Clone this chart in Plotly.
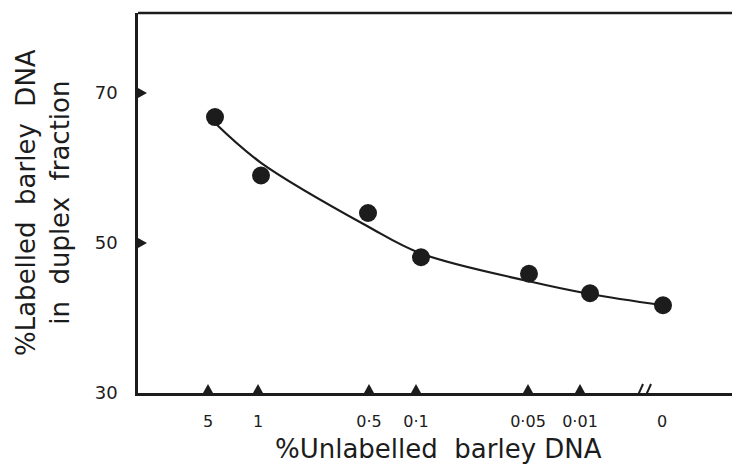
import plotly.graph_objects as go

# ---- data ----
concentration_labels = ["5", "1", "0·5", "0·1", "0·05", "0·01", "0"]
axis_pos = [70, 120, 231, 278, 390, 442, 524]      # category positions on the (broken) x axis
point_pos = [77, 123, 230, 283, 391, 452, 525]     # horizontal placement of measured points
labelled_pct = [66.8, 59.0, 54.0, 48.1, 45.9, 43.3, 41.7]
fitted_pct = [66.0, 60.7, 52.2, 48.6, 44.9, 43.2, 41.7]
y_ticks = [30, 50, 70]
break_pos = 505

INK = "#1c1c1c"
FONT = "DejaVu Sans"

fig = go.Figure()

fig.add_trace(go.Scatter(
    x=point_pos, y=fitted_pct, mode="lines",
    line=dict(color=INK, width=2.2, shape="spline", smoothing=1.0),
    hoverinfo="skip", showlegend=False))

fig.add_trace(go.Scatter(
    x=point_pos, y=labelled_pct, mode="markers",
    marker=dict(color=INK, size=18, line=dict(width=0)),
    showlegend=False))

shapes = []
# inward triangular ticks on x axis
for p in axis_pos[:-1]:
    shapes.append(dict(type="path", xref="x", yref="y",
                       xsizemode="pixel", ysizemode="pixel",
                       xanchor=p, yanchor=y_ticks[0],
                       path="M -5 0 L 5 0 L 0 9 Z",
                       fillcolor=INK, line=dict(width=0)))
# inward triangular ticks on y axis
for v in y_ticks[1:]:
    shapes.append(dict(type="path", xref="x", yref="y",
                       xsizemode="pixel", ysizemode="pixel",
                       xanchor=0, yanchor=v,
                       path="M 0 -5 L 0 5 L 9 0 Z",
                       fillcolor=INK, line=dict(width=0)))
# top border
shapes.append(dict(type="line", xref="paper", yref="paper", x0=0, x1=1, y0=1, y1=1,
                   line=dict(color=INK, width=2.5)))
# partial right border
shapes.append(dict(type="line", xref="paper", yref="y", x0=1, x1=1, y0=30, y1=45.5,
                   line=dict(color=INK, width=2)))
# axis break marks
for dx in (-4, 4):
    shapes.append(dict(type="line", xref="x", yref="y",
                       xsizemode="pixel", ysizemode="pixel",
                       xanchor=break_pos, yanchor=y_ticks[0],
                       x0=dx - 4, x1=dx + 4, y0=-9, y1=9,
                       line=dict(color=INK, width=2)))

fig.update_layout(
    width=732, height=459,
    margin=dict(l=130, r=2, t=5, b=74),
    paper_bgcolor="white", plot_bgcolor="white",
    font=dict(family=FONT, color=INK),
    shapes=shapes,
    xaxis=dict(range=[0, 600], showgrid=False, zeroline=False,
               showline=True, linecolor=INK, linewidth=2.5,
               tickmode="array", tickvals=axis_pos, ticktext=concentration_labels,
               ticks="", tickfont=dict(size=16, family=FONT, color=INK),
               ticklabelstandoff=12),
    yaxis=dict(range=[30, 80.67], showgrid=False, zeroline=False,
               showline=True, linecolor=INK, linewidth=2.5,
               tickmode="array", tickvals=y_ticks,
               ticks="", tickfont=dict(size=18, family=FONT, color=INK),
               ticklabelstandoff=14),
    annotations=[
        dict(text="%Unlabelled  barley DNA", xref="paper", yref="paper",
             x=0.5, y=0, yshift=-56, xanchor="center", yanchor="middle",
             showarrow=False, font=dict(size=26, family=FONT, color=INK)),
        dict(text="%Labelled  barley  DNA<br>in  duplex  fraction", xref="paper", yref="paper",
             x=0, xshift=-95, y=0.5, xanchor="center", yanchor="middle",
             textangle=-90, showarrow=False,
             font=dict(size=26, family=FONT, color=INK)),
    ],
)

fig.write_html("out.html")
